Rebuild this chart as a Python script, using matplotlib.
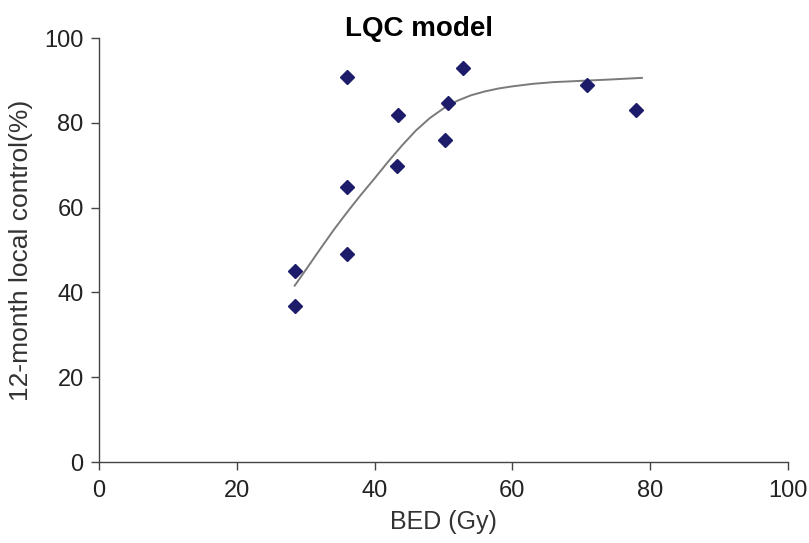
import matplotlib.pyplot as plt

plt.rcParams["font.family"] = ["Liberation Sans", "DejaVu Sans"]

NAVY = "#1c1c6b"
GRAY = "#7a7a7a"

# observed points (BED in Gy, 12-month local control in %)
bed = [28.4, 28.4, 36.0, 36.0, 36.0, 43.4, 43.3, 50.2, 50.7, 52.8, 70.8, 77.9]
control = [45.0, 36.8, 90.8, 64.9, 49.1, 81.8, 69.8, 75.9, 84.7, 92.9, 88.9, 83.0]

# fitted LQC curve
fit_bed = [28.4, 30, 32, 34, 36, 38, 40, 42, 44, 46, 48, 50, 52, 54, 56,
           58, 60, 63, 66, 70, 74, 78.8]
fit_control = [41.6, 45.3, 50.0, 54.6, 58.9, 63.0, 66.9, 70.9, 74.7, 78.2,
               81.1, 83.4, 85.2, 86.5, 87.4, 88.1, 88.6, 89.2, 89.6, 89.9,
               90.2, 90.6]

fig = plt.figure(figsize=(8.09, 5.43), dpi=100)
ax = fig.add_axes([0.1224, 0.149, 0.8516, 0.781])

ax.plot(fit_bed, fit_control, color=GRAY, lw=1.4, zorder=2)
ax.plot(bed, control, ls="none", marker="D", ms=7.5, color=NAVY,
        markeredgecolor=NAVY, zorder=3)

ax.set_xlim(0, 100)
ax.set_ylim(0, 100)
ax.set_xticks(range(0, 101, 20))
ax.set_yticks(range(0, 101, 20))

for side in ["top", "right"]:
    ax.spines[side].set_visible(False)
for side in ["left", "bottom"]:
    ax.spines[side].set_color("#444444")
    ax.spines[side].set_linewidth(1.0)

ax.tick_params(direction="out", length=6, width=1.0, color="#444444",
               labelsize=17, labelcolor="#222222")
ax.tick_params(axis="x", pad=7)
ax.tick_params(axis="y", pad=5)
ax.set_xlabel("BED (Gy)", fontsize=18, labelpad=6, color="#333333")
ax.set_ylabel("12-month local control(%)", fontsize=19, labelpad=8, color="#333333")
fig.text(0.518, 0.946, "LQC model", ha="center", va="center",
         fontsize=20, fontweight="bold")

fig.savefig("out.png", dpi=100)
